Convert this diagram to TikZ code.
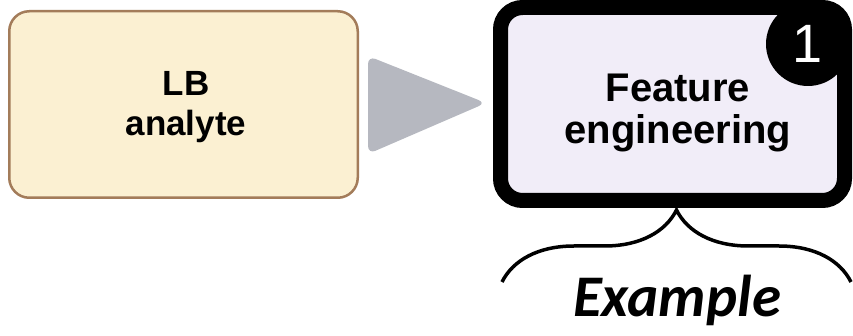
\documentclass[tikz,border=0pt]{standalone}
\usepackage{fontspec}
\setsansfont{Liberation Sans}
\newfontfamily\calibrifont{Carlito}
\usetikzlibrary{calc,decorations.pathreplacing}

\definecolor{lbfill}{RGB}{251,240,210}
\definecolor{lbdraw}{RGB}{163,124,90}
\definecolor{fefill}{RGB}{241,237,248}
\definecolor{arrowgray}{RGB}{182,184,192}

\begin{document}
\begin{tikzpicture}[x=0.5pt, y=-0.5pt,
    stagebox/.style={rectangle, rounded corners=10pt, inner sep=0pt},
    stagetext/.style={align=center, font=\sffamily\bfseries}]
  \useasboundingbox (0,0) rectangle (853,336);

  % input block
  \node[stagebox, draw=lbdraw, fill=lbfill, line width=1.25pt,
        minimum width=174.25pt, minimum height=93.25pt] (lb) at (183.5,104.5) {};
  \node[stagetext, font=\sffamily\bfseries\fontsize{17.5}{20}\selectfont] (lbtext) at (186,107) {LB\\analyte};

  % grey play-style arrow between the blocks
  \fill[arrowgray, rounded corners=4pt] (368,56) -- (486,103) -- (368,154) -- cycle;

  % step 1 block, heavy black frame
  \node[stagebox, rounded corners=11pt, draw=black, fill=fefill, line width=7.5pt,
        minimum width=172pt, minimum height=96.5pt] (fe) at (672.5,104) {};
  \node[stagetext, font=\sffamily\bfseries\fontsize{20}{21}\selectfont] (fetext) at (678,113) {Feature\\engineering};
  \node[circle, fill=black, text=white, inner sep=0pt, minimum size=42pt,
        font=\sffamily\fontsize{27}{28}\selectfont] (num) at (808,44) {1};

  % brace under the block
  \coordinate (brl) at (502,282);
  \coordinate (brr) at (851,282);
  \draw[decorate, decoration={brace, amplitude=36pt}, line width=1.75pt] (brl) -- (brr);
  \node[anchor=base, font=\calibrifont\bfseries\itshape\fontsize{29.5}{30}\selectfont] (ex) at (677,317) {Example};
\end{tikzpicture}
\end{document}
